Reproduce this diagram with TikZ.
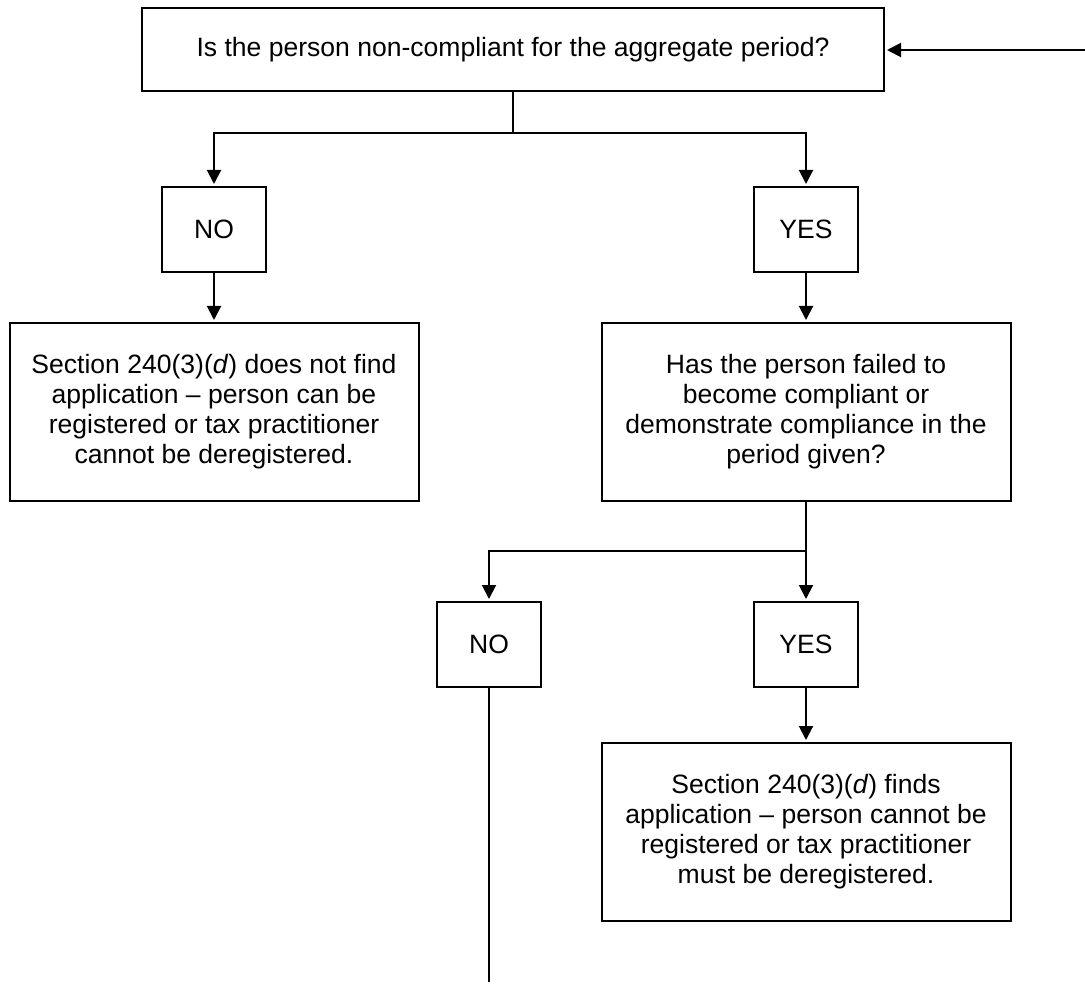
\documentclass[tikz,border=0pt]{standalone}
\usepackage{fontspec}
\setmainfont{Liberation Sans}
\usetikzlibrary{arrows.meta}
\tikzset{
  box/.style={draw, line width=1.5pt, align=center, inner sep=0pt,
    font=\fontsize{19.9pt}{22.5pt}\selectfont},
  topbox/.style={box, minimum width=556.5pt, minimum height=62.25pt},
  smallbox/.style={box, minimum width=78pt, minimum height=63.75pt},
  bigbox/.style={box, minimum width=306.75pt, minimum height=133.5pt},
  conn/.style={line width=1.5pt},
  arr/.style={conn, -{Triangle[length=10.5pt, width=10.5pt]}, shorten >=1.5pt},
}
\begin{document}
\begin{tikzpicture}[x=0.75pt, y=-0.75pt]
\useasboundingbox (0,0) rectangle (1085,984);
\node[topbox] (top) at (513,50) {Is the person non-compliant for the aggregate period?};
\node[smallbox] (no1) at (214,229.5) {NO};
\node[smallbox] (yes1) at (806,229.5) {YES};
\node[bigbox] (box1) at (214,412) {Section 240(3)(\textit{d}) does not find\\application -- person can be\\registered or tax practitioner\\cannot be deregistered.};
\node[bigbox] (box2) at (806,412) {Has the person failed to\\become compliant or\\demonstrate compliance in the\\period given?};
\node[smallbox] (no2) at (489,644.5) {NO};
\node[smallbox] (yes2) at (806,644.5) {YES};
\node[bigbox] (box3) at (806,832) {Section 240(3)(\textit{d}) finds\\application -- person cannot be\\registered or tax practitioner\\must be deregistered.};
\coordinate (in) at (1085,50);
\coordinate (j1) at (513,133);
\coordinate (j2) at (806,551);
\coordinate (endno) at (489,982);
\draw[arr] (in) -- (top.east);
\draw[conn] (top.south) -- (j1);
\draw[arr] (j1) -| (no1.north);
\draw[arr] (j1) -| (yes1.north);
\draw[arr] (no1.south) -- (box1.north);
\draw[arr] (yes1.south) -- (box2.north);
\draw[conn] (box2.south) -- (j2);
\draw[arr] (j2) -| (no2.north);
\draw[arr] (j2) -- (yes2.north);
\draw[arr] (yes2.south) -- (box3.north);
\draw[conn] (no2.south) -- (endno);
\end{tikzpicture}
\end{document}
